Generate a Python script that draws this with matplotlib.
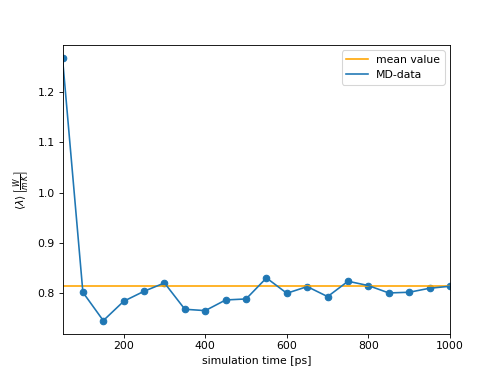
import matplotlib
matplotlib.use('Agg')
import matplotlib.pyplot as plt

# simulation time [ps] and thermal conductivity values
times = [50, 100, 150, 200, 250, 300, 350, 400, 450, 500,
         550, 600, 650, 700, 750, 800, 850, 900, 950, 1000]
lam = [1.2686, 0.8006, 0.744, 0.7827, 0.8027, 0.8193, 0.7667, 0.764, 0.7853, 0.7873,
       0.8293, 0.7987, 0.812, 0.792, 0.8227, 0.814, 0.7993, 0.8007, 0.8087, 0.8127]
mean_value = 0.8125

fig = plt.figure(figsize=(6.4, 4.8), dpi=78.125)
plt.plot([times[0], times[-1]], [mean_value, mean_value], color='orange', label='mean value')
plt.plot(times, lam, color='#1f77b4', label='MD-data')
plt.scatter(times, lam, color='#1f77b4')
plt.xlim(times[0], times[-1])
plt.xlabel('simulation time [ps]')
plt.ylabel(r'$\langle\lambda\rangle\,\left[\frac{W}{m\,K}\right]$')
plt.legend()
plt.savefig('out.png')
plt.close()
